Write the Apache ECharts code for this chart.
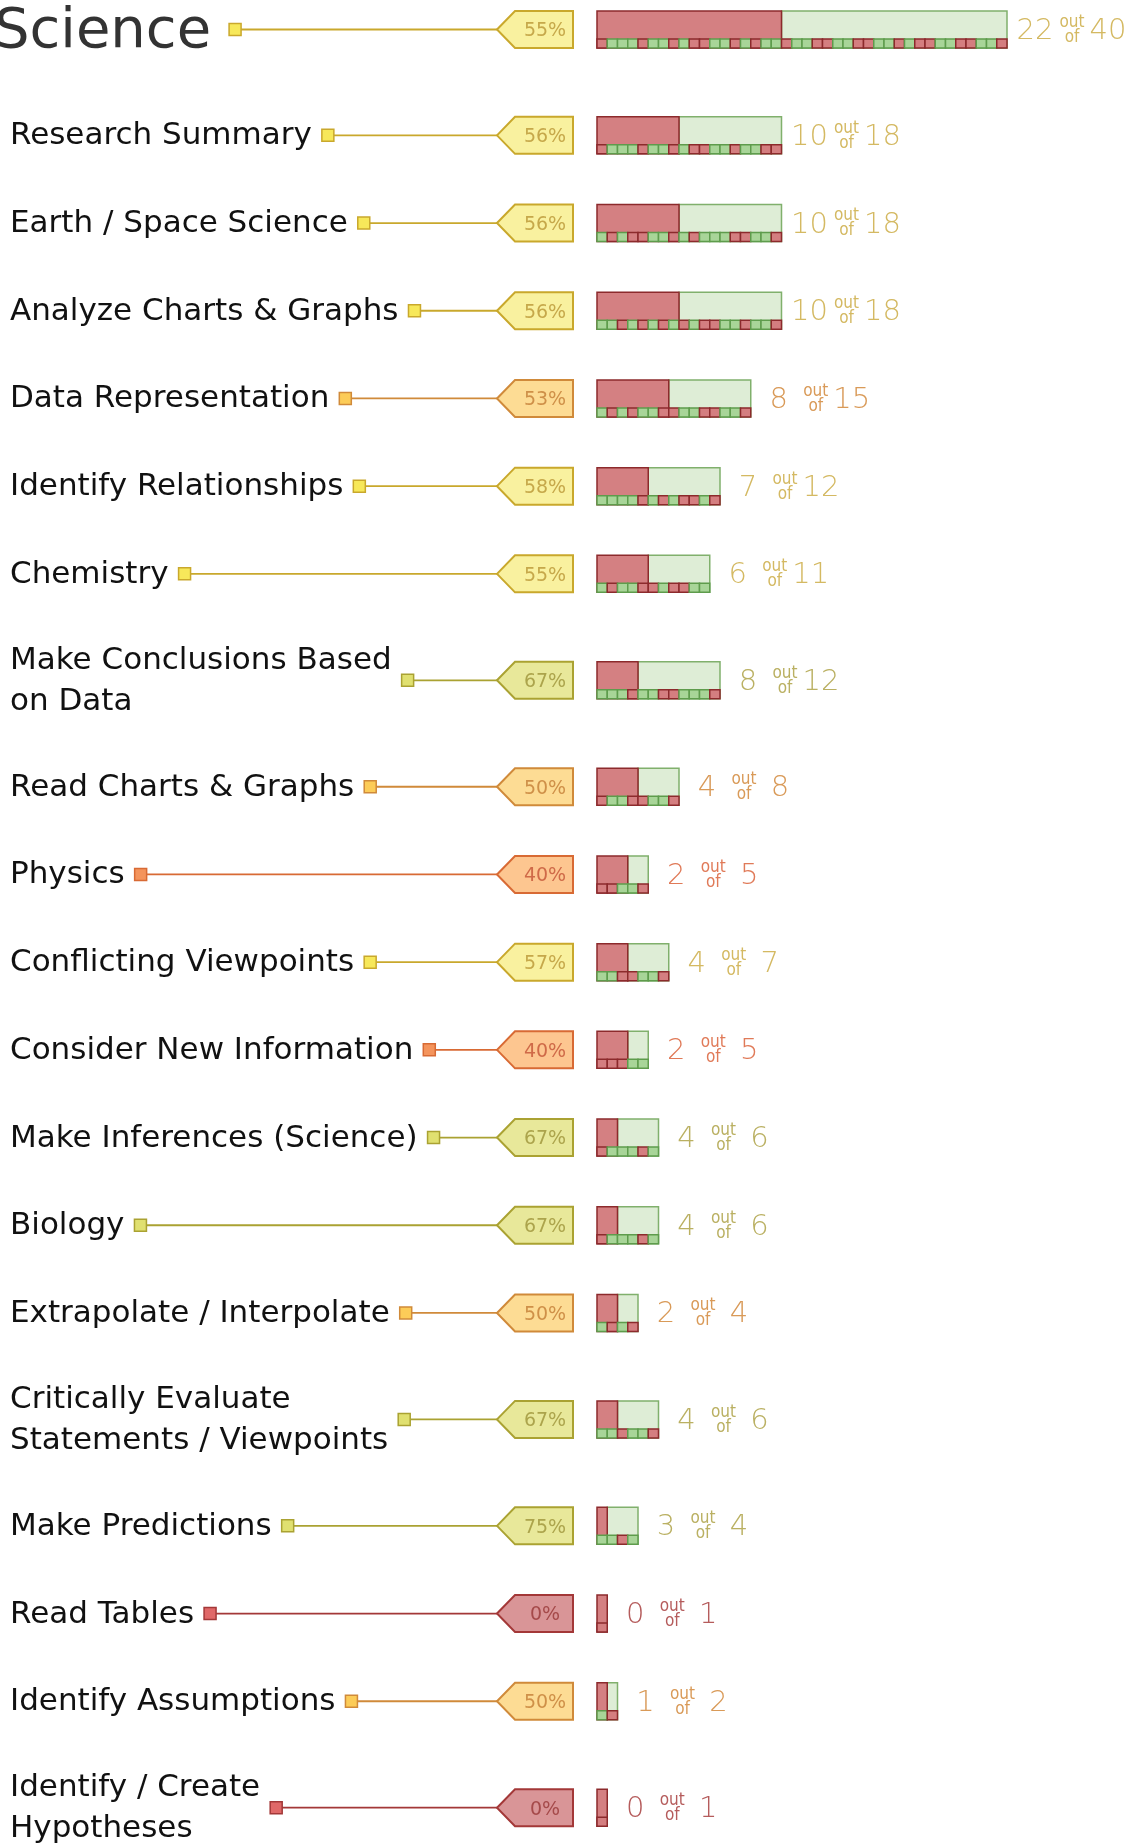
<!DOCTYPE html>
<html>
<head>
<meta charset="utf-8">
<script src="https://cdn.jsdelivr.net/npm/echarts@6/dist/echarts.min.js"></script>
<style>
  html, body { margin: 0; padding: 0; background: #fff; }
  #chart { width: 1125px; height: 1843px; }
</style>
</head>
<body>
<div id="chart"></div>
<script>
// skill rows, first one is the subject header
const categories = [
  'Science',
  'Research Summary',
  'Earth / Space Science',
  'Analyze Charts & Graphs',
  'Data Representation',
  'Identify Relationships',
  'Chemistry',
  'Make Conclusions Based on Data',
  'Read Charts & Graphs',
  'Physics',
  'Conflicting Viewpoints',
  'Consider New Information',
  'Make Inferences (Science)',
  'Biology',
  'Extrapolate / Interpolate',
  'Critically Evaluate Statements / Viewpoints',
  'Make Predictions',
  'Read Tables',
  'Identify Assumptions',
  'Identify / Create Hypotheses'
]
const correct = [22, 10, 10, 10, 8, 7, 6, 8, 4, 2, 4, 2, 4, 4, 2, 4, 3, 0, 1, 0]
const totals = [40, 18, 18, 18, 15, 12, 11, 12, 8, 5, 7, 5, 6, 6, 4, 6, 4, 1, 2, 1]
// per question, in order: 1 = right, 0 = wrong
const answers = [
  '0111011010' + '0110101101' + '1001100110' + '1001100110',
  '011101101001101100',
  '101001101011100110',
  '110101010100110110',
  '101011001100110',
  '111101010010',
  '10110010011',
  '111011001110',
  '01100110',
  '00110',
  '1100110',
  '00011',
  '011101',
  '011101',
  '1010',
  '110110',
  '1101',
  '0',
  '10',
  '0'
]

const tones = {
  red:    { tag: '#d99597', edge: '#a33838', text: '#a54a4a', mark: '#e06868', num: '#b55c5c' },
  orange: { tag: '#fdc690', edge: '#d86a34', text: '#cf6a48', mark: '#f4945c', num: '#e07a58' },
  amber:  { tag: '#fddc94', edge: '#d08a3a', text: '#cf9048', mark: '#fccc58', num: '#d99a58' },
  yellow: { tag: '#f9f19f', edge: '#c9a82c', text: '#c6a84a', mark: '#f7e85a', num: '#d4b962' },
  olive:  { tag: '#e8e89a', edge: '#aaa232', text: '#aca44c', mark: '#e0e070', num: '#bab062' }
}
function toneFor(p) {
  if (p < 20) return tones.red
  if (p < 45) return tones.orange
  if (p < 54) return tones.amber
  if (p < 60) return tones.yellow
  return tones.olive
}

const LABEL_FONT = '31px "DejaVu Sans"'
const HEAD_FONT = '56px "DejaVu Sans"'
const NUM_FONT = '200 29px "DejaVu Sans ExtraLight", "DejaVu Sans Light", "DejaVu Sans Condensed", sans-serif'
const OUT_FONT = '17px "DejaVu Sans Condensed", "DejaVu Sans"'

const ctx = document.createElement('canvas').getContext('2d')
function textWidth(t, font) {
  ctx.font = font
  return ctx.measureText(t).width
}
function wrap(t, font, maxW) {
  const lines = []
  let cur = ''
  t.split(' ').forEach(w => {
    const next = cur ? cur + ' ' + w : w
    if (cur && textWidth(next, font) > maxW) {
      lines.push(cur)
      cur = w
    } else {
      cur = next
    }
  })
  lines.push(cur)
  return lines
}

const labelLines = categories.map((c, i) => i === 0 ? [c] : wrap(c, LABEL_FONT, 420))

// row centres, stacked from each row's height
function halfHeight(i) {
  return i === 0 ? 62 : 43.85 + (labelLines[i].length - 1) * 18.75
}
const rowY = []
categories.forEach((c, i) => {
  rowY.push(i === 0 ? 29.5 : rowY[i - 1] + halfHeight(i - 1) + halfHeight(i))
})

const chart = echarts.init(document.getElementById('chart'), null, { renderer: 'canvas' })

function renderRow(params, api) {
  const i = api.value(2)
  const origin = api.coord([0, api.value(1)])
  const x0 = origin[0]
  const cy = origin[1]
  const unit = api.size([1, 0])[0]
  const total = totals[i]
  const right = correct[i]
  const wrong = total - right
  const pct = Math.round(right / total * 100)
  const tone = toneFor(pct)
  const children = []

  // label + marker
  const isHead = i === 0
  const font = isHead ? HEAD_FONT : LABEL_FONT
  const lines = labelLines[i]
  const lx = isHead ? -6 : 10
  const lw = Math.max.apply(null, lines.map(l => textWidth(l, font)))
  children.push({
    type: 'text',
    x: lx,
    y: isHead ? cy + 3 : cy + 1,
    style: {
      text: lines.join('\n'),
      font: font,
      fill: isHead ? '#333' : '#111',
      verticalAlign: 'middle',
      lineHeight: 41
    }
  })
  const mx = lx + lw + (isHead ? 18 : 10)
  const tip = x0 - 100
  children.push({
    type: 'line',
    shape: { x1: mx + 12, y1: cy, x2: tip, y2: cy },
    style: { stroke: tone.edge, lineWidth: 1.8 }
  })
  children.push({
    type: 'rect',
    shape: { x: mx, y: cy - 6, width: 12, height: 12 },
    style: { fill: tone.mark, stroke: tone.edge, lineWidth: 1.5 }
  })

  // percent tag
  children.push({
    type: 'polygon',
    shape: {
      points: [
        [tip, cy], [x0 - 82, cy - 18.5], [x0 - 24, cy - 18.5],
        [x0 - 24, cy + 18.5], [x0 - 82, cy + 18.5]
      ]
    },
    style: { fill: tone.tag, stroke: tone.edge, lineWidth: 2 }
  })
  children.push({
    type: 'text',
    x: x0 - 52,
    y: cy + 2,
    style: {
      text: pct + '%',
      font: '19px "DejaVu Sans"',
      fill: tone.text,
      align: 'center',
      verticalAlign: 'middle'
    }
  })

  // bar: wrong part then right part
  const top = cy - 18.5
  const h = 37
  children.push({
    type: 'rect',
    shape: { x: x0 + wrong * unit, y: top, width: right * unit, height: h },
    style: { fill: '#deedd6', stroke: '#80b06c', lineWidth: 1.5 }
  })
  children.push({
    type: 'rect',
    shape: { x: x0, y: top, width: wrong * unit, height: h },
    style: { fill: '#d48082', stroke: '#8c2a2c', lineWidth: 1.5 }
  })
  // one square per question
  const seq = answers[i]
  for (let q = 0; q < seq.length; q++) {
    const ok = seq[q] === '1'
    children.push({
      type: 'rect',
      shape: { x: x0 + q * unit, y: cy + 9.5, width: unit, height: 9 },
      style: {
        fill: ok ? '#a8d598' : '#d47e80',
        stroke: ok ? '#5e9c4c' : '#8c2a2c',
        lineWidth: 1.5
      }
    })
  }

  // "n out of m"
  const end = x0 + total * unit
  children.push({
    type: 'text', x: end + 28, y: cy + 2,
    style: { text: String(right), font: NUM_FONT, fill: tone.num, align: 'center', verticalAlign: 'middle' }
  })
  children.push({
    type: 'text', x: end + 65, y: cy - 7,
    style: { text: 'out', font: OUT_FONT, fill: tone.num, align: 'center', verticalAlign: 'middle' }
  })
  children.push({
    type: 'text', x: end + 65, y: cy + 8,
    style: { text: 'of', font: OUT_FONT, fill: tone.num, align: 'center', verticalAlign: 'middle' }
  })
  children.push({
    type: 'text', x: end + 101, y: cy + 2,
    style: { text: String(total), font: NUM_FONT, fill: tone.num, align: 'center', verticalAlign: 'middle' }
  })

  return { type: 'group', children: children }
}

const option = {
  animation: false,
  grid: { left: 597, top: 0, width: 512.5, height: 1843 },
  xAxis: { type: 'value', min: 0, max: 50, show: false },
  yAxis: { type: 'value', min: 0, max: 1843, inverse: true, show: false },
  series: [
    {
      type: 'custom',
      clip: false,
      silent: true,
      renderItem: renderRow,
      encode: { x: 0, y: 1 },
      data: categories.map((c, i) => [totals[i], rowY[i], i])
    }
  ]
}

chart.setOption(option)
</script>
</body>
</html>
